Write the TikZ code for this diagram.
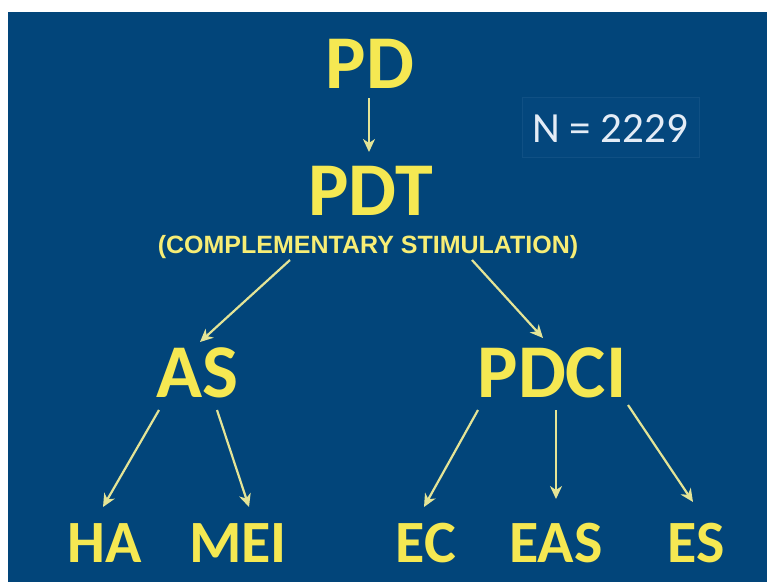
\documentclass[tikz,border=0pt]{standalone}
\usepackage{fontspec}
\setmainfont{Carlito}
\newfontfamily\arialfont{Liberation Sans}
\usetikzlibrary{arrows.meta,calc}
\definecolor{bgblue}{RGB}{2,69,122}
\definecolor{boxblue}{RGB}{4,71,125}
\definecolor{boxline}{RGB}{16,80,132}
\definecolor{txtyellow}{RGB}{245,232,82}
\definecolor{arrcol}{RGB}{228,228,150}
\definecolor{ncol}{RGB}{228,236,246}
\tikzset{
  big/.style={text=txtyellow, inner sep=0pt, anchor=base, font=\fontsize{76}{80}\bfseries\selectfont},
  small/.style={text=txtyellow, inner sep=0pt, anchor=base, font=\fontsize{60}{64}\bfseries\selectfont},
  sub/.style={text=txtyellow!80!white, inner sep=0pt, anchor=base, font=\arialfont\fontsize{25}{28}\bfseries\selectfont},
  ntext/.style={text=ncol, inner sep=0pt, anchor=base, font=\fontsize{43}{46}\selectfont},
  arr/.style={draw=arrcol, line width=2.2pt, -{Stealth[length=13pt,width=12pt,inset=4pt]}}
}
\begin{document}
\begin{tikzpicture}[x=1pt,y=-1pt]
\useasboundingbox (0,0) rectangle (767,582);
\fill[white] (0,0) rectangle (767,582);
\fill[bgblue] (8,12) rectangle (767,582);
\filldraw[fill=boxblue, draw=boxline, line width=0.6pt] (522,97) rectangle (699,157);
\node[ntext] (n) at (610,142) {N = 2229};
\node[big] (pd) at (370,88) {PD};
\node[big] (pdt) at (371,215) {PDT};
\node[sub] (compl) at (368,253) {(COMPLEMENTARY STIMULATION)};
\node[big] (as) at (197,397) {AS};
\node[big] (pdci) at (552,397) {PDCI};
\node[small] (ha) at (105,562) {HA};
\node[small] (mei) at (238,562) {MEI};
\node[small] (ec) at (426,562) {EC};
\node[small] (eas) at (556,562) {EAS};
\node[small] (es) at (696,562) {ES};
\draw[arr] ($(pd.base)+(-1,10)$) -- ($(pdt.base)+(-2,-63)$);
\draw[arr] ($(compl.base)+(-78,7)$) -- ($(as.base)+(3,-55)$);
\draw[arr] ($(compl.base)+(104,7)$) -- ($(pdci.base)+(-9,-59)$);
\draw[arr] ($(as.base)+(-38,13)$) -- ($(ha.base)+(-2,-55)$);
\draw[arr] ($(as.base)+(20,13)$) -- ($(mei.base)+(11,-55)$);
\draw[arr] ($(pdci.base)+(-74,13)$) -- ($(ec.base)+(-2,-55)$);
\draw[arr] ($(pdci.base)+(4,13)$) -- ($(eas.base)+(0,-63)$);
\draw[arr] ($(pdci.base)+(76,8)$) -- ($(es.base)+(-3,-60)$);
\end{tikzpicture}
\end{document}
